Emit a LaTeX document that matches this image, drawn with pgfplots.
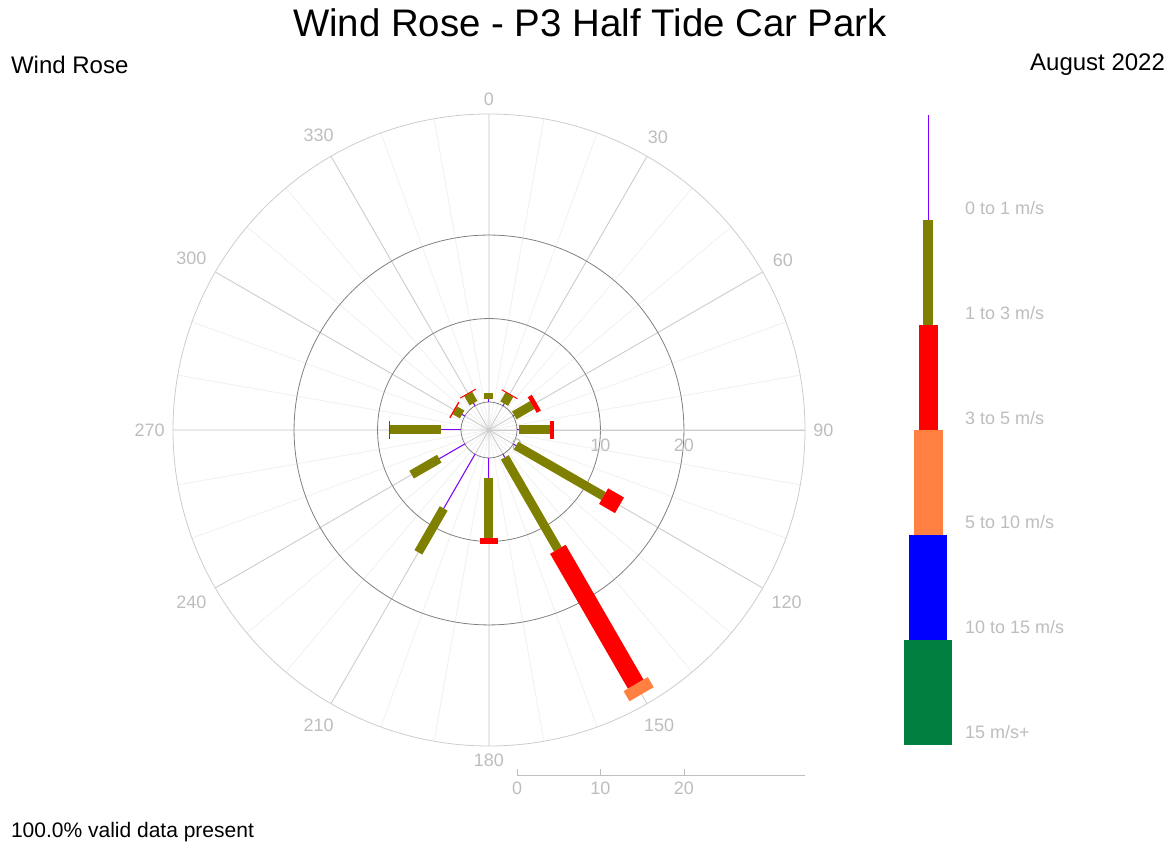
\documentclass[border=0pt]{standalone}
\usepackage{pgfplots}
\pgfplotsset{compat=1.18}
\usepgfplotslibrary{polar}
\usepackage{fontspec}
\setmainfont{Liberation Sans}
\definecolor{cpur}{HTML}{8000FF}
\definecolor{colv}{HTML}{808000}
\definecolor{cred}{HTML}{FF0000}
\definecolor{corg}{HTML}{FF8040}
\definecolor{cblu}{HTML}{0000FF}
\definecolor{cgrn}{HTML}{008040}
\definecolor{lab}{HTML}{BDBDBD}
\begin{document}
\begin{tikzpicture}
\path[use as bounding box] (0,0) rectangle (586.5pt,422.5pt);
\node[font=\fontsize{19.2}{21}\selectfont] at (295pt,411pt) {Wind Rose - P3 Half Tide Car Park};
\node[anchor=west,font=\fontsize{12}{14}\selectfont] at (2pt,390pt) {Wind Rose};
\node[anchor=east,font=\fontsize{12}{14}\selectfont] at (586pt,390pt) {August 2022};
\node[anchor=west,font=\fontsize{10.5}{12}\selectfont] at (2pt,6.5pt) {100.0\% valid data present};
\begin{polaraxis}[
  at={(244.5pt,207.5pt)}, anchor=center,
  width=316pt, height=316pt, scale only axis,
  xmin=0, xmax=360, ymin=0, ymax=37.85,
  xtick={0,30,...,330},
  xticklabels={90,60,30,0,330,300,270,240,210,180,150,120},
  minor xtick={0,10,...,350},
  ytick={3.35,13.35,23.35}, yticklabels={0,10,20},
  y filter/.expression={y+3.35},
  xmajorgrids, xminorgrids, ymajorgrids,
  major x grid style={draw=black!20,line width=0.4pt},
  minor x grid style={draw=black!6,line width=0.4pt},
  major y grid style={draw=black!50,line width=0.4pt},
  axis line style={draw=black!20},
  major tick length=0pt, minor tick length=0pt,
  ticklabel style={font=\fontsize{9}{10}\selectfont, text=lab},
  xticklabel style={inner sep=4pt},
  yticklabel style={anchor=north, yshift=-1pt},
  every axis plot/.append style={line cap=butt},
]
% purple 0-1 m/s
\addplot[cpur,line width=0.5pt] coordinates {(90,0) (90,0.32)};
\addplot[cpur,line width=0.5pt] coordinates {(60,0) (60,0.3)};
\addplot[cpur,line width=0.5pt] coordinates {(30,0) (30,0.15)};
\addplot[cpur,line width=0.5pt] coordinates {(0,0) (0,0.24)};
\addplot[cpur,line width=0.5pt] coordinates {(330,0) (330,0.4)};
\addplot[cpur,line width=0.5pt] coordinates {(300,0) (300,0.44)};
\addplot[cpur,line width=0.5pt] coordinates {(270,0) (270,2.43)};
\addplot[cpur,line width=0.5pt] coordinates {(240,0) (240,7.5)};
\addplot[cpur,line width=0.5pt] coordinates {(210,0) (210,3.53)};
\addplot[cpur,line width=0.5pt] coordinates {(180,0) (180,2.4)};
\addplot[cpur,line width=0.5pt] coordinates {(150,0) (150,0.37)};
\addplot[cpur,line width=0.5pt] coordinates {(120,0) (120,0.36)};
% olive 1-3 m/s
\addplot[colv,line width=4.5pt] coordinates {(90,0.32) (90,1.11)};
\addplot[colv,line width=4.5pt] coordinates {(60,0.3) (60,1.53)};
\addplot[colv,line width=4.5pt] coordinates {(30,0.15) (30,2.63)};
\addplot[colv,line width=4.5pt] coordinates {(0,0.24) (0,3.95)};
\addplot[colv,line width=4.5pt] coordinates {(330,0.4) (330,12.5)};
\addplot[colv,line width=4.5pt] coordinates {(300,0.44) (300,13.15)};
\addplot[colv,line width=4.5pt] coordinates {(270,2.43) (270,9.62)};
\addplot[colv,line width=4.5pt] coordinates {(240,7.5) (240,13.57)};
\addplot[colv,line width=4.5pt] coordinates {(210,3.53) (210,7.35)};
\addplot[colv,line width=4.5pt] coordinates {(180,2.4) (180,8.5)};
\addplot[colv,line width=4.5pt] coordinates {(150,0.37) (150,1.36)};
\addplot[colv,line width=4.5pt] coordinates {(120,0.36) (120,1.62)};
% red 3-5 m/s
\addplot[cred,line width=9pt] coordinates {(60,1.53) (60,1.65)};
\addplot[cred,line width=9pt] coordinates {(30,2.63) (30,3.2)};
\addplot[cred,line width=9pt] coordinates {(0,3.95) (0,4.43)};
\addplot[cred,line width=9pt] coordinates {(330,12.5) (330,14.7)};
\addplot[cred,line width=9pt] coordinates {(300,13.15) (300,31.8)};
\addplot[cred,line width=9pt] coordinates {(270,9.62) (270,10.34)};
\addplot[cred,line width=9pt] coordinates {(180,8.5) (180,8.6)};
\addplot[cred,line width=9pt] coordinates {(150,1.36) (150,1.52)};
\addplot[cred,line width=9pt] coordinates {(120,1.62) (120,1.74)};
% orange 5-10 m/s
\addplot[corg,line width=14pt] coordinates {(300,31.8) (300,33.2)};
\end{polaraxis}
\begin{axis}[
  at={(258.5pt,35pt)}, anchor=south west,
  width=144pt, height=1pt, scale only axis,
  xmin=0, xmax=34.5, ymin=0, ymax=1,
  axis x line*=bottom, hide y axis,
  xtick={0,10,20}, major tick length=3pt,
  /pgf/number format/assume math mode=true,
  axis line style={draw=black!25}, tick style={draw=black!25},
  ticklabel style={font=\fontsize{9}{10}\selectfont, text=lab},
]
\end{axis}
\begin{axis}[
  at={(464pt,50pt)}, anchor=south,
  width=40pt, height=315pt, scale only axis,
  xmin=-1, xmax=1, ymin=0, ymax=6, hide axis,
  every axis plot/.append style={line cap=butt},
]
\addplot[cpur,line width=0.5pt] coordinates {(0,5) (0,6)};
\addplot[colv,line width=5pt] coordinates {(0,4) (0,5)};
\addplot[cred,line width=9.5pt] coordinates {(0,3) (0,4)};
\addplot[corg,line width=14.5pt] coordinates {(0,2) (0,3)};
\addplot[cblu,line width=19pt] coordinates {(0,1) (0,2)};
\addplot[cgrn,line width=24pt] coordinates {(0,0) (0,1)};
\end{axis}
\begin{scope}[every node/.style={anchor=west,text=lab,font=\fontsize{9}{10}\selectfont}]
\node at (479pt,318.5pt) {0 to 1 m/s};
\node at (479pt,266pt) {1 to 3 m/s};
\node at (479pt,213.5pt) {3 to 5 m/s};
\node at (479pt,161.5pt) {5 to 10 m/s};
\node at (479pt,109pt) {10 to 15 m/s};
\node at (479pt,56.5pt) {15 m/s+};
\end{scope}
\end{tikzpicture}
\end{document}
